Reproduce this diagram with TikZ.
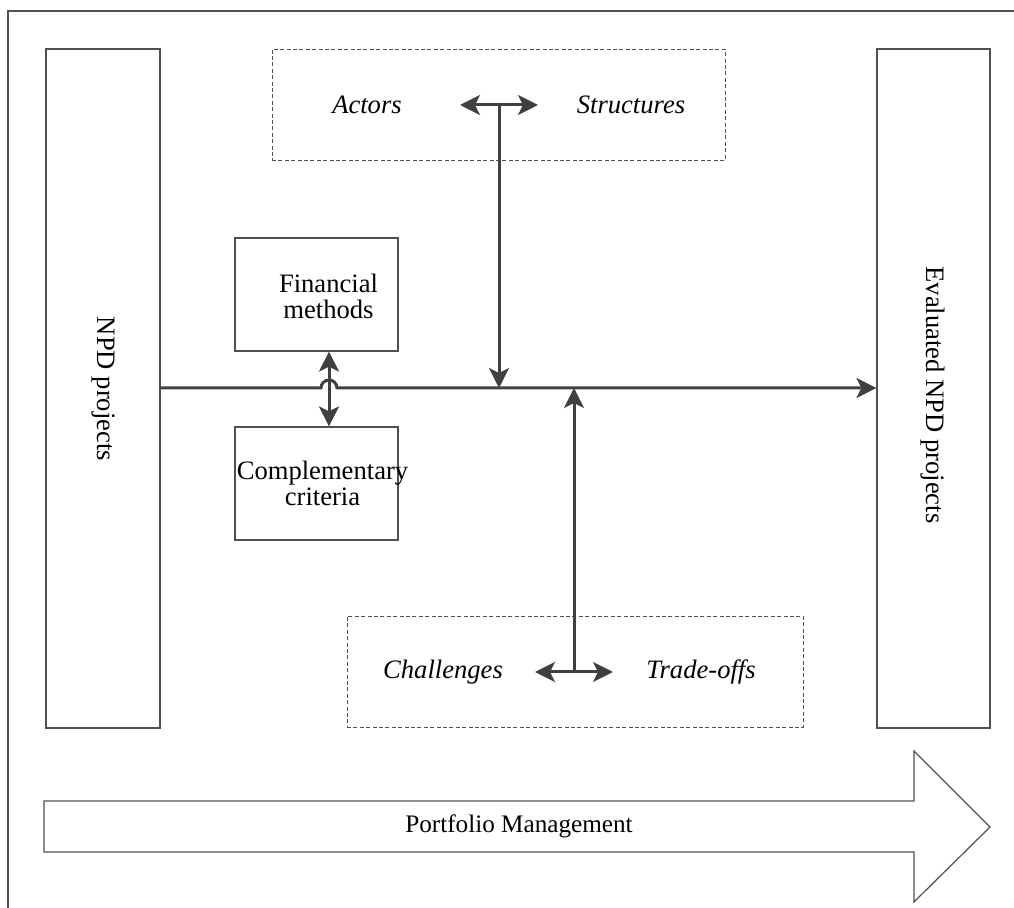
\documentclass[tikz,border=0pt]{standalone}
\usepackage{fontspec}
\setmainfont{Liberation Serif}
\usetikzlibrary{arrows.meta}
\definecolor{ln}{HTML}{404040}
\definecolor{bx}{HTML}{505050}
\tikzset{
  box/.style={draw=bx, line width=0.6pt, inner sep=0pt},
  dbox/.style={draw=bx, line width=0.4pt, dash pattern=on 2pt off 1.2pt, inner sep=0pt},
  conn/.style={draw=ln, line width=1.5pt},
  tip/.style={-{Stealth[length=10pt,width=10pt,inset=2.5pt]}},
  dtip/.style={{Stealth[length=10pt,width=10pt,inset=2.5pt]}-{Stealth[length=10pt,width=10pt,inset=2.5pt]}},
  lab/.style={font=\fontsize{13.3pt}{13pt}\selectfont, align=center, inner sep=0pt},
  ilab/.style={font=\fontsize{13.3pt}{15pt}\selectfont\itshape},
}
\begin{document}
\begin{tikzpicture}[x=0.5pt,y=-0.5pt]
\useasboundingbox (0,0) rectangle (1014,908);
\begin{scope}
\clip (0,0) rectangle (1014,908);
\draw[draw=bx, line width=0.6pt] (8,11) rectangle (1030,930);
\end{scope}
% side boxes
\node[box, minimum width=57pt, minimum height=339.5pt] (npd) at (103,388.5) {};
\node[lab, rotate=-90] (npdT) at (103,389) {NPD projects};
\node[box, minimum width=56.5pt, minimum height=339.5pt] (eval) at (933.5,388.5) {};
\node[lab, rotate=-90] (evalT) at (933,395) {Evaluated NPD projects};
% dashed boxes
\node[dbox, minimum width=226.5pt, minimum height=55.5pt] (top) at (498.5,104.5) {};
\node[dbox, minimum width=228pt, minimum height=55.5pt] (bot) at (575,671.5) {};
\node[ilab] (actors) at (367,105) {Actors};
\node[ilab] (struct) at (631,105) {Structures};
\node[ilab] (chall) at (443,672) {Challenges};
\node[ilab] (trade) at (701,672) {Trade-offs};
% financial / complementary
\node[box, minimum width=81.5pt, minimum height=56.5pt] (fin) at (316.5,294.5) {};
\node[lab] (finT) at (328.5,296) {Financial\\methods};
\node[box, minimum width=81.5pt, minimum height=56.5pt] (comp) at (316.5,483.5) {};
\node[lab] (compT) at (322.5,483) {Complementary\\criteria};
% coordinates
\coordinate (ml) at (160,388);
\coordinate (a1) at (460,105);
\coordinate (a2) at (538,105);
\coordinate (a0) at (499,105);
\coordinate (b1) at (535,672);
\coordinate (b2) at (613,672);
\coordinate (b0) at (574,672);
% main line with hop
\draw[conn, tip] (npd.east |- ml) -- (321,388) arc[start angle=180, end angle=360, radius=8] -- (eval.west |- ml);
\draw[conn, dtip] (fin.south -| 329,0) -- (comp.north -| 329,0);
% top arrows
\draw[conn, dtip] (a1) -- (a2);
\draw[conn, tip] (a0) -- (499,388);
% bottom arrows
\draw[conn, dtip] (b1) -- (b2);
\draw[conn, tip] (b0) -- (574,388);
% portfolio arrow
\draw[box] (44,801) -- (914,801) -- (914,751) -- (990,827) -- (914,902) -- (914,852) -- (44,852) -- cycle;
\node[lab, font=\fontsize{12.6pt}{15pt}\selectfont] (pm) at (519,826) {Portfolio Management};
\end{tikzpicture}
\end{document}
